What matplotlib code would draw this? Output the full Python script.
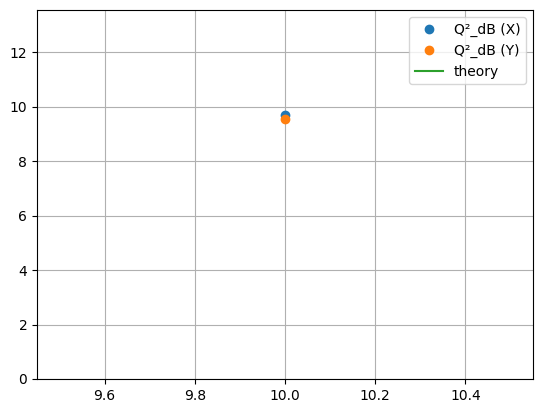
import matplotlib
matplotlib.use("Agg")
import matplotlib.pyplot as plt

X = [10.0]
Q2_DB_X = [9.70]
Q2_DB_Y = [9.57]
THEORY_X = []
THEORY_Y = []

fig = plt.figure(figsize=(5.43, 4.13), dpi=100)
ax = fig.add_axes([37 / 543, 34 / 413, 496 / 543, 369 / 413])

ax.plot(X, Q2_DB_X, "o", label="Q²_dB (X)")
ax.plot(X, Q2_DB_Y, "o", label="Q²_dB (Y)")
ax.plot(THEORY_X, THEORY_Y, "-", label="theory")

ax.set_xlim(9.45, 10.55)
ax.set_ylim(0, 13.56)
ax.grid(True)
ax.legend(loc="upper right")

fig.savefig("out.png", dpi=100)
